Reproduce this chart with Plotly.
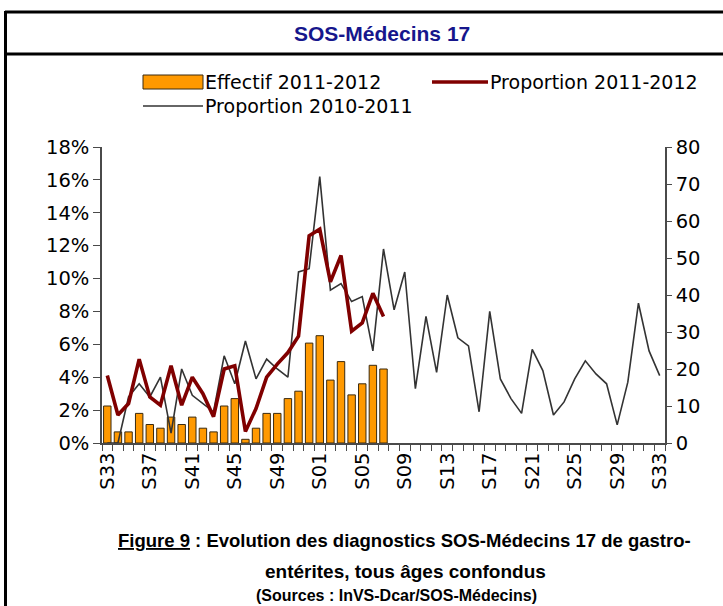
import plotly.graph_objects as go

# ---------------- data ----------------
weeks = ["S33", "S34", "S35", "S36", "S37", "S38", "S39", "S40", "S41", "S42",
         "S43", "S44", "S45", "S46", "S47", "S48", "S49", "S50", "S51", "S52",
         "S01", "S02", "S03", "S04", "S05", "S06", "S07", "S08", "S09", "S10",
         "S11", "S12", "S13", "S14", "S15", "S16", "S17", "S18", "S19", "S20",
         "S21", "S22", "S23", "S24", "S25", "S26", "S27", "S28", "S29", "S30",
         "S31", "S32", "S33"]

# Effectif 2011-2012 (right axis, counts)
effectif_2011_2012 = [10, 3, 3, 8, 5, 4, 7, 5, 7, 4, 3, 10, 12, 1, 4, 8, 8, 12, 14, 27,
                      29, 17, 22, 13, 16, 21, 20]

# Proportion 2011-2012 (left axis, %)
proportion_2011_2012 = [4.1, 1.7, 2.4, 5.1, 2.8, 2.3, 4.7, 2.3, 4.0, 3.0, 1.6, 4.5, 4.7, 0.7,
                        2.1, 4.0, 4.8, 5.5, 6.5, 12.6, 13.0, 9.8, 11.4, 6.8, 7.3, 9.1, 7.7]

# Proportion 2010-2011 (left axis, %)
proportion_2010_2011 = [0, 0, 2.8, 3.6, 2.8, 4.0, 0.6, 4.5, 2.9, 2.4, 1.9, 5.3, 3.6, 6.2,
                        3.9, 5.1, 4.5, 4.0, 10.4, 10.6, 16.2, 9.3, 9.7, 8.6, 8.9, 5.6,
                        11.8, 8.1, 10.4, 3.3, 7.7, 4.3, 9.0, 6.4, 5.9, 1.9, 8.0, 3.9, 2.7,
                        1.8, 5.7, 4.4, 1.7, 2.5, 3.9, 5.0, 4.2, 3.6, 1.1, 3.7, 8.5, 5.6, 4.1]

left_ticks = [0, 2, 4, 6, 8, 10, 12, 14, 16, 18]
left_tick_labels = ["0%", "2%", "4%", "6%", "8%", "10%", "12%", "14%", "16%", "18%"]
right_ticks = [0, 10, 20, 30, 40, 50, 60, 70, 80]

idx = list(range(len(weeks)))
tick_idx = idx[::4]
tick_txt = weeks[::4]

# ---------------- geometry helpers (layout only) ----------------
W, H = 723, 606
L, R, T, B = 102, 665, 147, 443


def px(x):
    return (x - L) / (R - L)


def py(y):
    return (B - y) / (B - T)


ORANGE = "#FF9900"
DARKRED = "#800000"
GREY = "#333333"
AXIS = "#4a4a4a"
NAVY = "#16168C"
TICKFONT = dict(family="DejaVu Sans", size=19.5, color="black")
BOLDF = "Liberation Sans, Arial, sans-serif"

fig = go.Figure()

fig.add_trace(go.Bar(
    x=idx[:len(effectif_2011_2012)], y=effectif_2011_2012, yaxis="y",
    marker=dict(color=ORANGE, line=dict(color="#3a2a10", width=1)),
    width=0.7, name="Effectif 2011-2012", showlegend=False,
))
fig.add_trace(go.Scatter(
    x=idx, y=proportion_2010_2011, yaxis="y2", mode="lines",
    line=dict(color=GREY, width=1.6), name="Proportion 2010-2011", showlegend=False,
))
fig.add_trace(go.Scatter(
    x=idx[:len(proportion_2011_2012)], y=proportion_2011_2012, yaxis="y2", mode="lines",
    line=dict(color=DARKRED, width=3.6), name="Proportion 2011-2012", showlegend=False,
))

fig.update_layout(
    width=W, height=H,
    margin=dict(l=L, r=W - R, t=T, b=H - B, pad=0),
    paper_bgcolor="white", plot_bgcolor="white",
    showlegend=False,
    xaxis=dict(
        range=[-0.5, len(weeks) - 0.5],
        tickmode="array", tickvals=tick_idx, ticktext=tick_txt,
        tickangle=-90, tickfont=TICKFONT, ticks="", ticklen=0,
        minor=dict(ticks="outside", tickmode="linear", tick0=-0.5, dtick=1,
                   ticklen=6, tickcolor=AXIS, tickwidth=1.2),
        showline=True, linecolor=AXIS, linewidth=1.5,
        showgrid=False, zeroline=False, anchor="y",
    ),
    yaxis=dict(
        side="right", range=[0, 80], tickmode="array", tickvals=right_ticks,
        ticks="outside", ticklen=5, tickcolor=AXIS, tickwidth=1.2,
        tickfont=TICKFONT, showline=True, linecolor=AXIS, linewidth=1.5,
        showgrid=False, zeroline=False, anchor="x",
    ),
    yaxis3=dict(
        side="right", overlaying="y", range=[0, 80], tickmode="array",
        tickvals=right_ticks, ticks="inside", ticklen=5, tickcolor=AXIS, tickwidth=1.2,
        showticklabels=False, showline=False, showgrid=False, zeroline=False,
        anchor="x",
    ),
    yaxis2=dict(
        side="left", overlaying="y", range=[0, 18], tickmode="array",
        tickvals=left_ticks, ticktext=left_tick_labels,
        ticks="outside", ticklen=7, tickcolor=AXIS, tickwidth=1.2,
        tickfont=TICKFONT, showline=True, linecolor=AXIS, linewidth=1.5,
        showgrid=False, zeroline=False, anchor="x",
    ),
)

shapes = [
    # frame lines
    dict(type="line", xref="paper", yref="paper", x0=px(5), x1=px(723), y0=py(12), y1=py(12),
         line=dict(color="black", width=3)),
    dict(type="line", xref="paper", yref="paper", x0=px(5), x1=px(723), y0=py(54), y1=py(54),
         line=dict(color="black", width=3)),
    dict(type="line", xref="paper", yref="paper", x0=px(5.5), x1=px(5.5), y0=py(11), y1=py(606),
         line=dict(color="black", width=3)),
    # legend symbols
    dict(type="rect", xref="paper", yref="paper", x0=px(143), x1=px(203), y0=py(89), y1=py(75),
         fillcolor=ORANGE, line=dict(color="#3a2a10", width=1)),
    dict(type="line", xref="paper", yref="paper", x0=px(432), x1=px(488), y0=py(82), y1=py(82),
         line=dict(color=DARKRED, width=3.6)),
    dict(type="line", xref="paper", yref="paper", x0=px(143), x1=px(203), y0=py(106), y1=py(106),
         line=dict(color=GREY, width=1.6)),
]
fig.update_layout(shapes=shapes)

LEGFONT = dict(family="DejaVu Sans", size=19, color="black")
annots = [
    dict(text="Effectif 2011-2012", x=px(203), y=py(82), xanchor="left", yanchor="middle",
         font=LEGFONT),
    dict(text="Proportion 2011-2012", x=px(488), y=py(82), xanchor="left", yanchor="middle",
         font=LEGFONT),
    dict(text="Proportion 2010-2011", x=px(203), y=py(106), xanchor="left", yanchor="middle",
         font=LEGFONT),
    dict(text="<b>SOS-Médecins 17</b>", x=px(382), y=py(33), xanchor="center", yanchor="middle",
         font=dict(family=BOLDF, size=21, color=NAVY)),
    dict(text="<b><u>Figure 9</u> : Evolution des diagnostics SOS-Médecins 17 de gastro-</b>",
         x=px(404), y=py(540), xanchor="center", yanchor="middle",
         font=dict(family=BOLDF, size=18.5, color="black")),
    dict(text="<b>entérites, tous âges confondus</b>",
         x=px(405), y=py(571), xanchor="center", yanchor="middle",
         font=dict(family=BOLDF, size=19, color="black")),
    dict(text="<b>(Sources : InVS-Dcar/SOS-Médecins)</b>",
         x=px(396), y=py(595), xanchor="center", yanchor="middle",
         font=dict(family=BOLDF, size=16, color="black")),
]
for a in annots:
    a.update(xref="paper", yref="paper", showarrow=False)
fig.update_layout(annotations=annots)

fig.write_html("out.html",
               config={"displayModeBar": False},
               post_script="document.body.style.margin='0';document.body.style.padding='0';")
